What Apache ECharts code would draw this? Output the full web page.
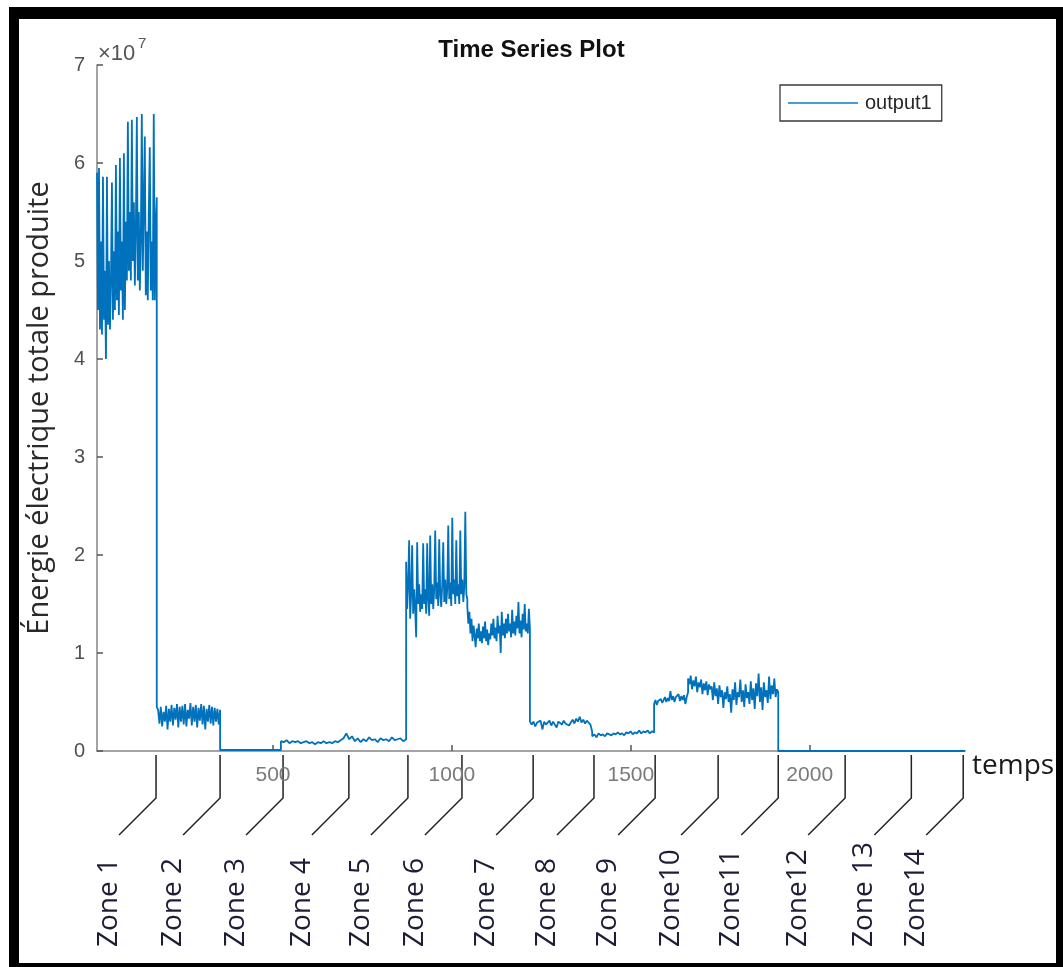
<!DOCTYPE html>
<html><head><meta charset="utf-8">
<script src="https://cdn.jsdelivr.net/npm/echarts@6/dist/echarts.min.js"></script>
<style>html,body{margin:0;padding:0;background:#fff}#c{width:1063px;height:967px}</style>
</head><body><div id="c"></div>
<script>
// ---- data (values in units of 1e7, as on the axis) ----
const timeRange = [8, 2434];
const xTickValues = [500, 1000, 1500, 2000];
const yTickLabels = ['0', '1', '2', '3', '4', '5', '6', '7'];
const seriesName = 'output1';

const segmentStarts = [8, 175, 352, 522, 872, 1043, 1218, 1392, 1565, 1660, 1912];
const segmentEnds   = [175, 352, 522, 872, 1043, 1218, 1392, 1565, 1660, 1912, 2434];

const seg1 = [5.9,4.5,5.95,4.3,5.2,4.25,5.86,4.4,4.9,4.0,5.86,4.35,5.0,4.3,4.8,5.8,4.4,5.1,4.5,5.98,4.6,5.3,4.45,6.05,4.7,5.2,4.4,6.1,4.5,5.4,4.8,6.42,4.9,5.5,4.8,6.44,5.0,5.6,4.75,5.3,6.47,4.8,5.5,4.7,5.2,6.5,4.9,5.6,6.27,4.65,5.3,4.6,5.5,6.16,4.7,5.2,4.6,6.5,4.6,5.4,5.65];
const seg2 = [0.45,0.42,0.28,0.45,0.25,0.4,0.3,0.46,0.22,0.43,0.3,0.47,0.26,0.44,0.32,0.48,0.24,0.45,0.3,0.46,0.27,0.48,0.25,0.42,0.33,0.49,0.26,0.45,0.3,0.47,0.24,0.44,0.31,0.48,0.27,0.46,0.22,0.43,0.3,0.47,0.28,0.45,0.26,0.44,0.3,0.43,0.27,0.42];
const seg3 = [0.01, 0.01];
const seg4 = [0.1,0.09,0.11,0.08,0.1,0.09,0.1,0.08,0.09,0.1,0.08,0.09,0.07,0.09,0.08,0.1,0.08,0.09,0.08,0.1,0.09,0.11,0.13,0.18,0.12,0.15,0.1,0.13,0.09,0.12,0.1,0.14,0.11,0.12,0.09,0.13,0.11,0.12,0.1,0.14,0.11,0.12,0.13,0.1,0.12];
const seg5 = [1.93,1.45,1.7,2.15,1.35,1.6,2.1,1.4,1.65,1.45,1.16,2.13,1.5,1.7,1.42,1.6,1.45,2.12,1.5,1.65,1.4,2.12,1.55,1.38,2.2,1.5,1.7,1.45,1.65,2.25,1.55,1.72,1.48,2.16,1.6,1.47,1.7,2.13,1.52,1.75,1.5,1.65,2.3,1.55,1.72,1.48,2.38,1.6,1.75,1.5,2.15,1.58,1.7,1.5,2.25,1.6,1.75,1.52,1.68,2.44,1.6,1.55];
const seg6 = [1.47,1.3,1.42,1.2,1.35,1.12,1.28,1.18,1.06,1.25,1.15,1.3,1.12,1.22,1.1,1.27,1.15,1.32,1.12,1.24,1.08,1.2,1.14,1.3,1.18,1.35,1.15,1.26,1.12,1.38,1.2,1.28,1.0,1.42,1.18,1.3,1.15,1.35,1.2,1.4,1.22,1.3,1.16,1.44,1.2,1.32,1.18,1.38,1.25,1.52,1.2,1.33,1.16,1.4,1.24,1.5,1.22,1.3,1.2,1.45,1.25];
const seg7 = [0.3,0.27,0.3,0.25,0.29,0.28,0.31,0.22,0.3,0.27,0.29,0.31,0.26,0.3,0.28,0.24,0.3,0.29,0.27,0.31,0.28,0.3,0.26,0.29,0.32,0.28,0.33,0.3,0.35,0.29,0.32,0.28,0.31,0.29,0.27,0.2];
const seg8 = [0.15,0.17,0.14,0.18,0.16,0.17,0.15,0.18,0.17,0.16,0.18,0.17,0.19,0.17,0.18,0.16,0.19,0.18,0.2,0.17,0.19,0.18,0.21,0.18,0.2,0.19,0.21,0.18,0.2,0.19];
const seg9 = [0.48,0.52,0.47,0.51,0.5,0.53,0.49,0.52,0.55,0.5,0.54,0.51,0.61,0.52,0.56,0.5,0.55,0.53,0.58,0.51,0.56,0.52,0.57,0.48,0.55,0.6];
const seg10 = [0.74,0.68,0.77,0.63,0.72,0.66,0.76,0.6,0.7,0.65,0.73,0.58,0.69,0.62,0.71,0.57,0.68,0.63,0.66,0.52,0.7,0.56,0.64,0.48,0.67,0.55,0.62,0.44,0.6,0.53,0.66,0.5,0.58,0.39,0.63,0.52,0.7,0.47,0.6,0.55,0.73,0.5,0.62,0.45,0.68,0.54,0.6,0.48,0.71,0.52,0.64,0.43,0.69,0.56,0.79,0.5,0.65,0.42,0.7,0.55,0.62,0.49,0.76,0.53,0.67,0.58,0.74,0.55,0.63,0.6];
const seg11 = [0, 0];

const zoneBounds = [173, 352, 528, 712, 877, 1028, 1227, 1397, 1568, 1744, 1912, 2099, 2284, 2429];
const zoneLabels = ['Zone 1','Zone 2','Zone 3','Zone 4','Zone 5','Zone 6','Zone 7','Zone 8','Zone 9','Zone10','Zone11','Zone12','Zone 13','Zone14'];

// ---- build series points (samples spread evenly over each segment) ----
const segments = [seg1, seg2, seg3, seg4, seg5, seg6, seg7, seg8, seg9, seg10, seg11];
const seriesData = [];
segments.forEach((vals, k) => {
  const a = segmentStarts[k], b = segmentEnds[k], n = vals.length;
  vals.forEach((v, i) => seriesData.push([a + (b - a) * i / (n - 1), v]));
});

const chart = echarts.init(document.getElementById('c'), null, {renderer: 'canvas'});
const axisGray = '#858585';
const lineBlue = '#0072BD';
chart.setOption({
  animation: false,
  backgroundColor: '#fff',
  title: {
    text: 'Time Series Plot', left: 'center', top: 33,
    textStyle: {fontSize: 24, fontWeight: 'bold', color: '#111', fontFamily: 'Liberation Sans'}
  },
  legend: {
    data: [seriesName], left: 780, top: 85,
    icon: 'rect', itemWidth: 70, itemHeight: 2, itemGap: 0,
    padding: [8, 10, 8, 8],
    borderColor: '#3a3a3a', borderWidth: 1.3,
    itemStyle: {color: '#4a9bd6'},
    textStyle: {fontSize: 20, color: '#262626', fontFamily: 'Liberation Sans', padding: [0, 0, 0, 2]}
  },
  grid: {left: 97, right: 98, top: 65, bottom: 216, containLabel: false},
  xAxis: {
    type: 'value', min: timeRange[0], max: timeRange[1],
    name: 'temps', nameLocation: 'end', nameGap: 7,
    nameTextStyle: {fontSize: 28, fontFamily: 'Open Sans', color: '#1a1a1a', verticalAlign: 'top', lineHeight: 30},
    axisLine: {show: true, onZero: false, lineStyle: {color: axisGray, width: 1.5}},
    axisTick: {show: true, inside: true, length: 6, customValues: xTickValues, lineStyle: {color: '#555', width: 1.5}},
    axisLabel: {show: true, customValues: xTickValues, margin: 14, fontSize: 21, color: '#7a7a7a', fontFamily: 'Liberation Sans',
      formatter: (v) => String(v)},
    splitLine: {show: false}
  },
  yAxis: {
    type: 'value', min: 0, max: 7, interval: 1,
    name: 'Énergie électrique totale produite', nameLocation: 'middle', nameGap: 43, nameRotate: 90,
    nameTextStyle: {fontSize: 29, fontFamily: 'Open Sans', color: '#2a2a2a'},
    axisLine: {show: true, lineStyle: {color: axisGray, width: 1.5}},
    axisTick: {show: true, inside: true, length: 6, lineStyle: {color: '#555', width: 1.5}},
    axisLabel: {margin: 12, fontSize: 20, color: '#505050', fontFamily: 'Liberation Sans',
      formatter: (v) => yTickLabels[Math.round(v)]},
    splitLine: {show: false}
  },
  series: [{
    name: seriesName, type: 'line', data: seriesData,
    symbol: 'none', showSymbol: false,
    lineStyle: {color: lineBlue, width: 1.8},
    itemStyle: {color: lineBlue}
  }]
});

// ---- annotations: frame, exponent, zone pointers ----
const origin = chart.convertToPixel({gridIndex: 0}, [timeRange[0], 7]);
const axisY = chart.convertToPixel({gridIndex: 0}, [timeRange[0], 0])[1];
const g = [];
g.push({type: 'rect', shape: {x: 9, y: 7, width: 10, height: 960}, style: {fill: '#000'}, silent: true});
g.push({type: 'rect', shape: {x: 9, y: 7, width: 1054, height: 12}, style: {fill: '#000'}, silent: true});
g.push({type: 'rect', shape: {x: 1056, y: 7, width: 7, height: 960}, style: {fill: '#000'}, silent: true});
g.push({type: 'rect', shape: {x: 9, y: 963, width: 1054, height: 4}, style: {fill: '#000'}, silent: true});
g.push({type: 'text', x: origin[0] + 1, y: origin[1] - 22, style: {text: '×10', fontSize: 22, fill: '#555', fontFamily: 'Liberation Sans', textVerticalAlign: 'top'}, silent: true});
g.push({type: 'text', x: origin[0] + 41, y: origin[1] - 29, style: {text: '7', fontSize: 15, fill: '#555', fontFamily: 'Liberation Sans', textVerticalAlign: 'top'}, silent: true});
zoneBounds.forEach((t, i) => {
  const px = chart.convertToPixel({gridIndex: 0}, [t, 0])[0];
  g.push({type: 'polyline', shape: {points: [[px, axisY + 4], [px, axisY + 47], [px - 37, axisY + 84]]},
    style: {stroke: '#222', lineWidth: 1.5, fill: null}, silent: true});
  g.push({type: 'text', x: px - 47, y: 947, rotation: Math.PI / 2,
    style: {text: zoneLabels[i], fontSize: 28, fontFamily: 'Open Sans', fill: '#1d1d35', textAlign: 'left', textVerticalAlign: 'middle'}, silent: true});
});
chart.setOption({graphic: g});
</script>
</body></html>
